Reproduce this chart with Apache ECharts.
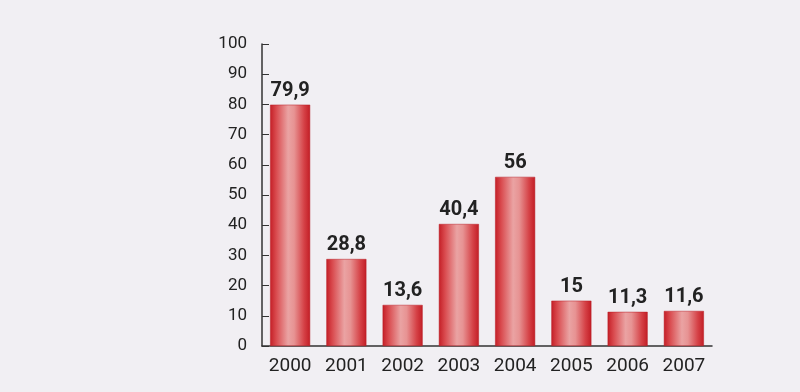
<!DOCTYPE html>
<html><head><meta charset="utf-8">
<script src="https://cdn.jsdelivr.net/npm/echarts@6/dist/echarts.min.js"></script>
<style>html,body{margin:0;padding:0;background:#f1eff3;}#c{width:800px;height:392px;}</style>
</head><body><div id="c"></div>
<script>
const years = ['2000','2001','2002','2003','2004','2005','2006','2007'];
const values = [79.9, 28.8, 13.6, 40.4, 56, 15, 11.3, 11.6];
const labels = ['79,9','28,8','13,6','40,4','56','15','11,3','11,6'];
const yTicks = [0,10,20,30,40,50,60,70,80,90,100];

const font = '"Liberation Sans Narrow",Roboto,"Liberation Sans",Arial,sans-serif';
const chart = echarts.init(document.getElementById('c'));
const grad = new echarts.graphic.LinearGradient(0,0,1,0,[
  {offset:0,color:'#c41e26'},
  {offset:0.15,color:'#d94a4e'},
  {offset:0.45,color:'#eaa3a3'},
  {offset:0.6,color:'#e79393'},
  {offset:0.85,color:'#d54146'},
  {offset:1,color:'#c21d25'}
]);
chart.setOption({
  backgroundColor:'#f1eff3',
  animation:false,
  grid:{left:262,right:88,top:44,bottom:46},
  xAxis:{type:'category',data:years,
    axisLine:{lineStyle:{color:'#333',width:1.5}},
    axisTick:{inside:true,length:4,lineStyle:{color:'#555'}},
    axisLabel:{color:'#222',fontSize:19,fontFamily:font,margin:11}
  },
  yAxis:{type:'value',min:yTicks[0],max:yTicks[yTicks.length-1],interval:10,
    splitLine:{show:false},
    axisLine:{show:true,lineStyle:{color:'#333',width:1.5}},
    axisTick:{show:true,inside:true,length:7,lineStyle:{color:'#333'}},
    axisLabel:{color:'#222',fontSize:17,fontFamily:font,margin:15}
  },
  series:[{type:'bar',barWidth:40,
    data:values.map((v,i)=>({value:v,label:{formatter:labels[i]}})),
    itemStyle:{color:grad,borderColor:'#b81a22',borderWidth:0.5},
    label:{show:true,position:'top',distance:4,color:'#222',fontSize:20,fontWeight:'bold',fontFamily:font}
  }]
});
</script></body></html>
